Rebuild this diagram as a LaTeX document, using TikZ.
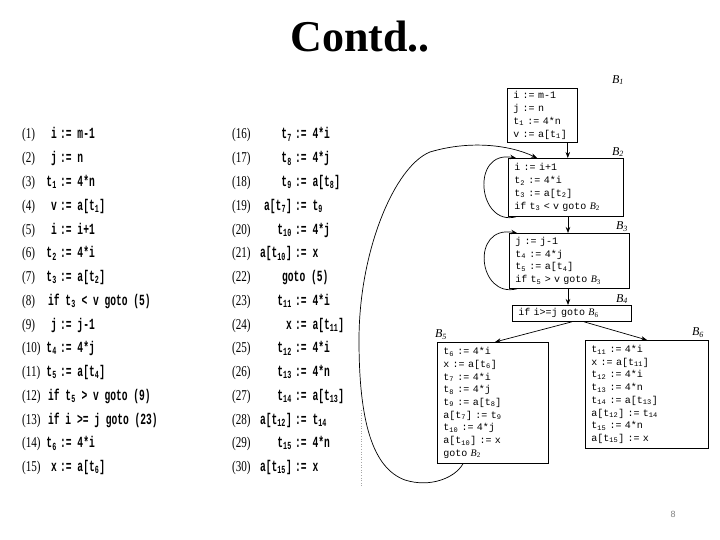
\documentclass[tikz,border=0pt]{standalone}
\usepackage{fontspec}
\setmainfont{Liberation Serif}
\newfontfamily\lstfont[FakeStretch=0.62]{Liberation Mono}
\newfontfamily\numfont[FakeStretch=0.74]{Liberation Serif}
\newfontfamily\boxfont{Liberation Mono}
\newfontfamily\pgfont{Liberation Sans}
\usetikzlibrary{calc,arrows.meta}
\newcommand\tsub[1]{\textsubscript{#1}}
\newcommand\Bl[1]{\textrm{\textit{B}\textsubscript{#1}}}
\tikzset{
  lst/.style={inner sep=0pt, font=\lstfont\bfseries\fontsize{15.5}{18}\selectfont},
  num/.style={inner sep=0pt, font=\numfont\fontsize{15}{18}\selectfont},
  blk/.style={draw, line width=0.8pt, inner xsep=6pt, inner ysep=0pt, align=left,
              anchor=north west, font=\boxfont\fontsize{10}{12.7}\selectfont},
  blab/.style={inner sep=0pt, font=\rmfamily\itshape\fontsize{12}{14}\selectfont},
  arr/.style={-{Stealth[length=6pt,width=4.5pt]}, line width=0.7pt},
}
\newcommand\Lrow[5]{%
  \node[num,anchor=base west] (#1n) at (22,#2) {(#3)};
  \node[lst,anchor=base east] (#1a) at (57,#2) {#4};
  \node[lst,anchor=base west] (#1b) at (60,#2) {:= #5};}
\newcommand\Lif[4]{%
  \node[num,anchor=base west] (#1n) at (22,#2) {(#3)};
  \node[lst,anchor=base west] (#1b) at (48,#2) {#4};}
\newcommand\Rrow[5]{%
  \node[num,anchor=base west] (#1n) at (232,#2) {(#3)};
  \node[lst,anchor=base east] (#1a) at (292,#2) {#4};
  \node[lst,anchor=base west] (#1b) at (295,#2) {:= #5};}
\begin{document}
\begin{tikzpicture}[x=1pt,y=-1pt]
\path[use as bounding box] (0,0) rectangle (720,540);

% title
\node[font=\rmfamily\bfseries\fontsize{44}{48}\selectfont, inner sep=0pt] (title) at (360,37) {Contd..};

% left listing
\Lrow{r1}{139}{1}{i}{m-1}
\Lrow{r2}{162.75}{2}{j}{n}
\Lrow{r3}{186.5}{3}{t\tsub{1}}{4*n}
\Lrow{r4}{210.25}{4}{v}{a[t\tsub{1}]}
\Lrow{r5}{234}{5}{i}{i+1}
\Lrow{r6}{257.75}{6}{t\tsub{2}}{4*i}
\Lrow{r7}{281.5}{7}{t\tsub{3}}{a[t\tsub{2}]}
\Lif{r8}{305.25}{8}{if t\tsub{3} < v goto (5)}
\Lrow{r9}{329}{9}{j}{j-1}
\Lrow{r10}{352.75}{10}{t\tsub{4}}{4*j}
\Lrow{r11}{376.5}{11}{t\tsub{5}}{a[t\tsub{4}]}
\Lif{r12}{400.25}{12}{if t\tsub{5} > v goto (9)}
\Lif{r13}{424}{13}{if i >= j goto (23)}
\Lrow{r14}{447.75}{14}{t\tsub{6}}{4*i}
\Lrow{r15}{471.5}{15}{x}{a[t\tsub{6}]}

% right listing
\Rrow{r16}{139}{16}{t\tsub{7}}{4*i}
\Rrow{r17}{162.75}{17}{t\tsub{8}}{4*j}
\Rrow{r18}{186.5}{18}{t\tsub{9}}{a[t\tsub{8}]}
\Rrow{r19}{210.25}{19}{a[t\tsub{7}]}{t\tsub{9}}
\Rrow{r20}{234}{20}{t\tsub{10}}{4*j}
\Rrow{r21}{257.75}{21}{a[t\tsub{10}]}{x}
\node[num,anchor=base west] (r22n) at (232,281.5) {(22)};
\node[lst,anchor=base west] (r22b) at (282,281.5) {goto (5)};
\Rrow{r23}{305.25}{23}{t\tsub{11}}{4*i}
\Rrow{r24}{329}{24}{x}{a[t\tsub{11}]}
\Rrow{r25}{352.75}{25}{t\tsub{12}}{4*i}
\Rrow{r26}{376.5}{26}{t\tsub{13}}{4*n}
\Rrow{r27}{400.25}{27}{t\tsub{14}}{a[t\tsub{13}]}
\Rrow{r28}{424}{28}{a[t\tsub{12}]}{t\tsub{14}}
\Rrow{r29}{447.75}{29}{t\tsub{15}}{4*n}
\Rrow{r30}{471.5}{30}{a[t\tsub{15}]}{x}

% scan edge
\draw[gray!70, dotted, line width=0.6pt] (361,410) -- (361,487);

% flow graph blocks
\node[blk, text width=58pt, minimum height=54pt] (B1) at (507,88)
  {i := m-1\\ j := n\\ t\tsub{1} := 4*n\\ v := a[t\tsub{1}]};
\node[blk, text width=103pt, minimum height=58pt] (B2) at (508,158)
  {i := i+1\\ t\tsub{2} := 4*i\\ t\tsub{3} := a[t\tsub{2}]\\ if t\tsub{3} < v goto \Bl{2}};
\node[blk, text width=108pt, minimum height=55pt] (B3) at (509,233)
  {j := j-1\\ t\tsub{4} := 4*j\\ t\tsub{5} := a[t\tsub{4}]\\ if t\tsub{5} > v goto \Bl{3}};
\node[blk, text width=107pt, minimum height=16pt] (B4) at (512,305)
  {if i>=j goto \Bl{6}};
\node[blk, text width=99pt, minimum height=121pt] (B5) at (437,342)
  {t\tsub{6} := 4*i\\ x := a[t\tsub{6}]\\ t\tsub{7} := 4*i\\ t\tsub{8} := 4*j\\ t\tsub{9} := a[t\tsub{8}]\\
   a[t\tsub{7}] := t\tsub{9}\\ t\tsub{10} := 4*j\\ a[t\tsub{10}] := x\\ goto \Bl{2}};
\node[blk, text width=111pt, minimum height=108pt] (B6) at (585,340)
  {t\tsub{11} := 4*i\\ x := a[t\tsub{11}]\\ t\tsub{12} := 4*i\\ t\tsub{13} := 4*n\\ t\tsub{14} := a[t\tsub{13}]\\
   a[t\tsub{12}] := t\tsub{14}\\ t\tsub{15} := 4*n\\ a[t\tsub{15}] := x};

% block labels
\node[blab] (L1) at (618,80) {\Bl{1}};
\node[blab] (L2) at (618,152) {\Bl{2}};
\node[blab] (L3) at (622,227) {\Bl{3}};
\node[blab] (L4) at (622,299) {\Bl{4}};
\node[blab] (L5) at (441,335) {\Bl{5}};
\node[blab] (L6) at (698,333) {\Bl{6}};

% straight edges
\coordinate (s1) at ($(B1.south east)+(-10,0)$);
\coordinate (s2) at ($(B2.south west)+(60,0)$);
\coordinate (s3) at ($(B3.south west)+(59,0)$);
\coordinate (s4) at ($(B4.south west)+(60,0)$);
\coordinate (s5) at ($(B4.south west)+(72,0)$);
\coordinate (e5) at ($(B5.north west)+(58,0)$);
\coordinate (e6) at ($(B6.north west)+(62,0)$);
\draw[arr] (s1) -- (s1 |- B2.north);
\draw[arr] (s2) -- (s2 |- B3.north);
\draw[arr] (s3) -- (s3 |- B4.north);
\draw[arr] (s4) -- (e5);
\draw[arr] (s5) -- (e6);

% self loops
\draw[arr] ($(B2.south west)+(8,0)$) .. controls ($(B2.south west)+(-30,10)$) and ($(B2.north west)+(-38,-8)$) .. ($(B2.north west)+(8,0)$);
\draw[arr] ($(B3.south west)+(8,0)$) .. controls ($(B3.south west)+(-31,10)$) and ($(B3.north west)+(-39,-8)$) .. ($(B3.north west)+(8,0)$);

% B5 -> B2 back edge
\coordinate (p1) at (405,480);
\coordinate (p2) at (359,340);
\coordinate (p3) at (430,152);
\draw[arr] ($(B5.south west)+(26,0)$) .. controls (455,478) and (430,488) .. (p1)
  .. controls (372,468) and (359,420) .. (p2)
  .. controls (359,250) and (395,166) .. (p3)
  .. controls (470,140) and (510,145) .. ($(B2.north west)+(29,0)$);

% page number
\node[font=\pgfont\fontsize{9}{10}\selectfont, text=gray, inner sep=0pt] (pg) at (673,514) {8};
\end{tikzpicture}
\end{document}
